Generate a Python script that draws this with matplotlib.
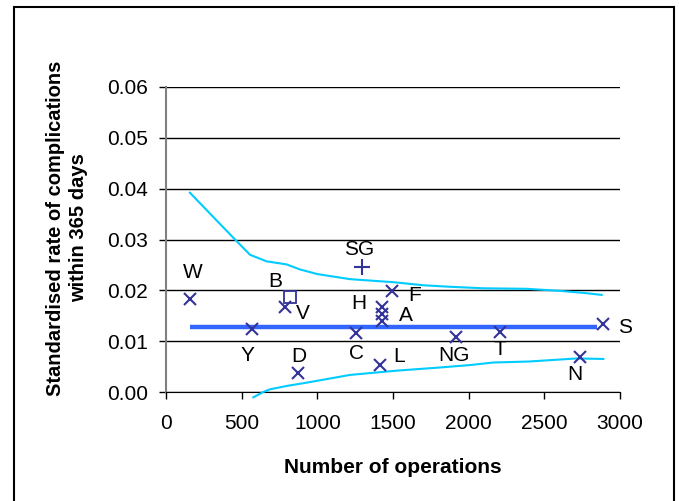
import matplotlib.pyplot as plt
from matplotlib.patches import Rectangle

plt.rcParams['font.family'] = ['Liberation Sans', 'DejaVu Sans']

# hospitals: label, number of operations, standardised rate
labels = ['W', 'B', 'V', 'Y', 'D', 'C', 'SG', 'H', 'A', '', 'L', 'F', 'NG', 'T', 'N', 'S']
ops = [158, 818, 786, 570, 874, 1256, 1293, 1425, 1425, 1425, 1414, 1496, 1917, 2207, 2736, 2885]
rate = [0.0183, 0.0187, 0.0168, 0.0124, 0.0037, 0.0116, 0.0246, 0.0168, 0.0153, 0.0140,
        0.0053, 0.0199, 0.0109, 0.0119, 0.0068, 0.0133]
markers = ['x', 's', 'x', 'x', 'x', 'x', '+', 'x', 'x', 'x', 'x', 'x', 'x', 'x', 'x', 'x']
# label offsets in pixels (dx, dy) relative to the point
offsets = [(3, 26), (-15, 15), (18, -7), (-5, -27), (1, 17), (0, -20), (-3, 17), (-23, 3),
           (24, -1), (0, 0), (19, 9), (22, -5), (-2, -19), (0, -18), (-5, -17), (22, -3)]

mean_x = [158, 2850]
mean_rate = [0.01277, 0.01277]

upper_x = [158, 456, 555, 665, 797, 886, 1000, 1216, 1503, 1700, 1877, 2100, 2384,
           2600, 2758, 2879]
upper_y = [0.0392, 0.0300, 0.0270, 0.0257, 0.0251, 0.0241, 0.0232, 0.0222,
           0.0216, 0.0210, 0.0207, 0.0204, 0.0203, 0.0199, 0.0195, 0.0191]
lower_x = [577, 643, 687, 800, 930, 1216, 1525, 1800, 2009, 2163, 2400, 2714, 2890]
lower_y = [-0.00105, 0.0, 0.00053, 0.0012, 0.00184, 0.00336, 0.0042, 0.0048, 0.0053, 0.0058,
           0.0060, 0.0066, 0.0065]

fig = plt.figure(figsize=(6.79, 5.01), dpi=100)
ax = fig.add_axes([166 / 679, 1 - 392 / 501, 454 / 679, 305 / 501])

cyan = '#00CCFF'
navy = '#333399'

ax.plot(upper_x, upper_y, color=cyan, lw=1.5, clip_on=False, zorder=3)
ax.plot(lower_x, lower_y, color=cyan, lw=1.5, clip_on=False, zorder=3)
ax.plot(mean_x, mean_rate, color='#3366FF', lw=3.2, solid_capstyle='butt', zorder=3)

for lab, x, y, m, (dx, dy) in zip(labels, ops, rate, markers, offsets):
    if m == 's':
        ax.plot(x, y, marker='s', ms=9, mfc='none', mec=navy, mew=1.3, zorder=4)
    else:
        ax.plot(x, y, marker=m, ms=9 if m == 'x' else 11, mec=navy, mew=1.5, zorder=4)
    if lab:
        ax.annotate(lab, (x, y), xytext=(dx, dy), textcoords='offset pixels',
                    ha='center', va='center', fontsize=15, color='black', zorder=5)

ax.set_xlim(0, 3000)
ax.set_ylim(0, 0.06)
ax.set_xticks(range(0, 3001, 500))
ax.set_yticks([0.0, 0.01, 0.02, 0.03, 0.04, 0.05, 0.06])
ax.set_yticklabels(['0.00', '0.01', '0.02', '0.03', '0.04', '0.05', '0.06'])
ax.tick_params(axis='both', labelsize=15, direction='out', length=5, width=1, color='black')
ax.tick_params(axis='y', pad=8)
ax.tick_params(axis='x', pad=11)
ax.grid(axis='y', color='black', lw=1)
ax.set_axisbelow(True)
for s in ['top', 'right']:
    ax.spines[s].set_visible(False)
ax.spines['left'].set_color('#808080')
ax.spines['left'].set_linewidth(1.5)
ax.spines['bottom'].set_color('black')

ax.set_xlabel('Number of operations', fontsize=15, fontweight='bold', labelpad=18)
fig.text(67 / 679, 1 - 228 / 501, 'Standardised rate of complications\nwithin 365 days',
         rotation=90, ha='center', va='center', multialignment='center',
         fontsize=14.5, fontweight='bold', linespacing=1.3)

fig.patches.append(Rectangle((14 / 679, -0.02), 660 / 679, 1.02 - 7 / 501,
                             transform=fig.transFigure, fill=False, ec='black', lw=1.5))

fig.savefig('out.png', dpi=100)
